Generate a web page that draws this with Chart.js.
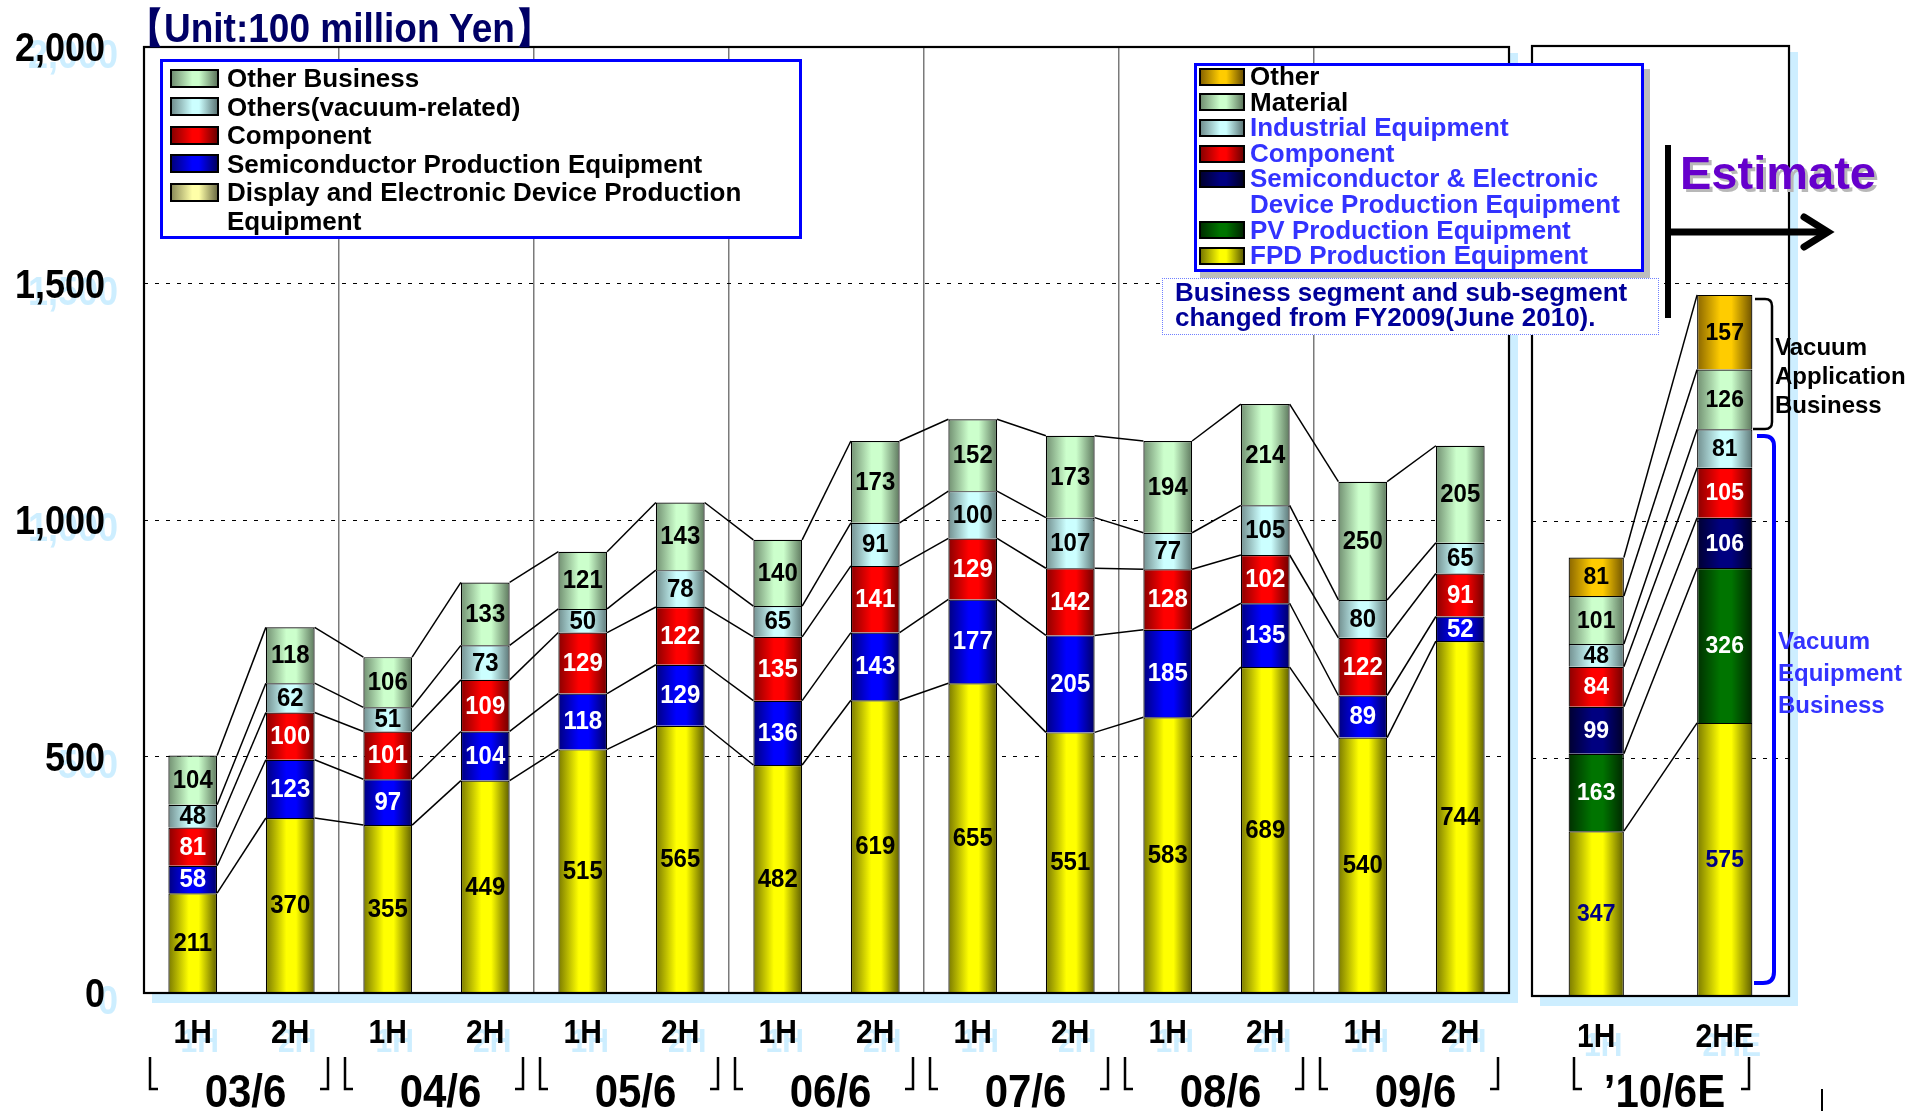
<!DOCTYPE html>
<html>
<head>
<meta charset="utf-8">
<title>Orders by segment</title>
<script src="https://cdn.jsdelivr.net/npm/chart.js@4.4.1/dist/chart.umd.min.js"></script>
<style>
  html, body { margin: 0; padding: 0; background: #fff; }
  body { position: relative; width: 1923px; height: 1112px; overflow: hidden;
         font-family: "Liberation Sans", Arial, sans-serif; font-weight: bold; }
  canvas { position: absolute; top: 0; }
  #past { left: 0; }
  #plan { left: 1525px; }
  #marks { position: absolute; left: 0; top: 0; }
  .abs { position: absolute; white-space: nowrap; }
  .legend { position: absolute; box-sizing: border-box; border: 3px solid #0000ff; background: #fff; }
  .row { display: flex; align-items: flex-start; }
  .sw { flex: none; box-sizing: border-box; border: 2px solid #000; }
</style>
</head>
<body>
<canvas id="past" width="1525" height="1112"></canvas>
<canvas id="plan" width="398" height="1112"></canvas>

<svg id="marks" width="1923" height="1112">
  <!-- estimate marker -->
  <rect x="1665" y="145" width="6" height="173" fill="#000"/>
  <line x1="1669" y1="232" x2="1826" y2="232" stroke="#000" stroke-width="7"/>
  <path d="M1804 217 L1828 232 L1804 247" fill="none" stroke="#000" stroke-width="7" stroke-linecap="round"/>
  <!-- segment braces -->
  <path d="M1755 299 H1765 Q1772 299 1772 306 V422 Q1772 429 1765 429 H1753" fill="none" stroke="#000" stroke-width="2.5"/>
  <path d="M1757 436 H1764 Q1774 436 1774 446 V972 Q1774 983 1763 983 H1754" fill="none" stroke="#0000ff" stroke-width="4"/>
</svg>

<div class="abs" id="unit" style="left:127px;top:10px;font-size:37px;line-height:37px;color:#000066;transform:scaleY(1.1);">【Unit:100 million Yen】</div>
<div class="legend" id="legendPast" style="left:160px;top:59px;width:642px;height:180px;"></div>
<div class="legend" id="legendPlan" style="left:1194px;top:63px;width:450px;height:209px;box-shadow:6px 6px 0 #bdbdbd;"></div>
<div class="abs" id="note" style="left:1162px;top:278px;width:497px;height:57px;box-sizing:border-box;border:1px dotted #7080ff;background:#fff;padding:1px 0 0 12px;font-size:26px;line-height:25px;color:#000099;">Business segment and sub-segment<br>changed from FY2009(June 2010).</div>
<div class="abs" style="left:1680px;top:149px;font-size:47px;line-height:47px;color:#6600cc;text-shadow:3px 3px 0 #b8b8b8;">Estimate</div>
<div class="abs" style="left:1775px;top:332px;font-size:24px;line-height:29px;color:#000;">Vacuum<br>Application<br>Business</div>
<div class="abs" style="left:1778px;top:625px;font-size:24px;line-height:32px;color:#3333ff;">Vacuum<br>Equipment<br>Business</div>
<div class="abs" style="left:1821px;top:1089px;width:2px;height:22px;background:#000;"></div>

<script>
// ---------------- data ----------------
const yTicks = [0, 500, 1000, 1500, 2000];

// results, half years ended 03/6 .. 09/6
const halfLabels = ['1H','2H','1H','2H','1H','2H','1H','2H','1H','2H','1H','2H','1H','2H'];
const yearLabels = ['03/6','04/6','05/6','06/6','07/6','08/6','09/6'];
const displayEquip  = [211, 370, 355, 449, 515, 565, 482, 619, 655, 551, 583, 689, 540, 744];
const semiEquip     = [ 58, 123,  97, 104, 118, 129, 136, 143, 177, 205, 185, 135,  89,  52];
const componentPast = [ 81, 100, 101, 109, 129, 122, 135, 141, 129, 142, 128, 102, 122,  91];
const othersVacuum  = [ 48,  62,  51,  73,  50,  78,  65,  91, 100, 107,  77, 105,  80,  65];
const otherBusiness = [104, 118, 106, 133, 121, 143, 140, 173, 152, 173, 194, 214, 250, 205];

// estimate for the year ending 10/6 (new segments)
const planHalfLabels  = ['1H', '2HE'];
const planYearLabel   = '\u201910/6E';
const fpdEquip        = [347, 575];
const pvEquip         = [163, 326];
const semiElecEquip   = [ 99, 106];
const componentPlan   = [ 84, 105];
const industrialEquip = [ 48,  81];
const material        = [101, 126];
const otherPlan       = [ 81, 157];

// ---------------- styles ----------------
// [edge, highlight, far edge] for the cylinder look
const shades = {
  yellow: ['#7a7a00', '#ffff00', '#5e5e00'],
  pale:   ['#8c8c5a', '#ffffa8', '#6e6e46'],
  blue:   ['#000080', '#0000ff', '#000064'],
  red:    ['#8a0000', '#ff0000', '#6e0000'],
  cyan:   ['#728f8f', '#ccffff', '#5e7878'],
  green:  ['#729072', '#ccffcc', '#5e785e'],
  navy:   ['#000030', '#000080', '#000026'],
  pv:     ['#003000', '#007400', '#002600'],
  gold:   ['#8a6600', '#ffcc00', '#6e5200']
};
const FONT = '"Liberation Sans", Arial, sans-serif';
const BLUE_TEXT = '#3333ff';

const pastSeries = [
  { label: 'Display and Electronic Device Production Equipment', data: displayEquip, shade: 'yellow', swatch: 'pale', valueColor: '#000' },
  { label: 'Semiconductor Production Equipment', data: semiEquip, shade: 'blue', swatch: 'blue', valueColor: '#fff' },
  { label: 'Component', data: componentPast, shade: 'red', swatch: 'red', valueColor: '#fff' },
  { label: 'Others(vacuum-related)', data: othersVacuum, shade: 'cyan', swatch: 'cyan', valueColor: '#000' },
  { label: 'Other Business', data: otherBusiness, shade: 'green', swatch: 'green', valueColor: '#000' }
];

const planSeries = [
  { label: 'FPD Production Equipment', data: fpdEquip, shade: 'yellow', swatch: 'yellow', valueColor: '#000080', legendColor: BLUE_TEXT },
  { label: 'PV Production Equipment', data: pvEquip, shade: 'pv', swatch: 'pv', valueColor: '#fff', legendColor: BLUE_TEXT },
  { label: 'Semiconductor & Electronic Device Production Equipment', data: semiElecEquip, shade: 'navy', swatch: 'navy', valueColor: '#fff', legendColor: BLUE_TEXT },
  { label: 'Component', data: componentPlan, shade: 'red', swatch: 'red', valueColor: '#fff', legendColor: BLUE_TEXT },
  { label: 'Industrial Equipment', data: industrialEquip, shade: 'cyan', swatch: 'cyan', valueColor: '#000', legendColor: BLUE_TEXT },
  { label: 'Material', data: material, shade: 'green', swatch: 'green', valueColor: '#000', legendColor: '#000' },
  { label: 'Other', data: otherPlan, shade: 'gold', swatch: 'gold', valueColor: '#000', legendColor: '#000' }
];

// ---------------- helpers ----------------
function barFill(shade, pct) {
  return function (c) {
    if (c.type !== 'data') return shade[1];
    const xs = c.chart.scales.x;
    if (!xs) return shade[1];
    const half = xs.width / c.chart.data.labels.length * pct / 2;
    const cx = xs.getPixelForValue(c.dataIndex);
    // scales are not laid out yet on the very first pass
    if (!isFinite(half) || !isFinite(cx) || half <= 0) return shade[1];
    const g = c.chart.ctx.createLinearGradient(cx - half, 0, cx + half, 0);
    g.addColorStop(0, shade[0]);
    g.addColorStop(0.42, shade[1]);
    g.addColorStop(0.62, shade[1]);
    g.addColorStop(1, shade[2]);
    return g;
  };
}

function drawText(ctx, text, x, y, size, color, align, stretch, shadow) {
  ctx.save();
  ctx.font = 'bold ' + size + 'px ' + FONT;
  ctx.textAlign = align;
  ctx.textBaseline = 'middle';
  if (shadow) {
    ctx.save();
    ctx.translate(x + shadow[0], y + shadow[1]);
    ctx.scale(1, stretch);
    ctx.fillStyle = '#cdeeff';
    ctx.fillText(text, 0, 0);
    ctx.restore();
  }
  ctx.translate(x, y);
  ctx.scale(1, stretch);
  ctx.fillStyle = color;
  ctx.fillText(text, 0, 0);
  ctx.restore();
}

function panelPlugin(cfg) {
  return {
    id: 'panel',
    beforeDraw(chart) {
      const ctx = chart.ctx, a = chart.chartArea;
      ctx.save();
      ctx.fillStyle = '#cdeeff';
      ctx.fillRect(a.left + 8, a.top + 6, a.right - a.left + 1, a.bottom - a.top + 4);
      ctx.fillStyle = '#fff';
      ctx.fillRect(a.left, a.top, a.right - a.left, a.bottom - a.top);
      ctx.restore();
    },
    // lines joining the segment tops of neighbouring bars
    beforeDatasetsDraw(chart) {
      const ctx = chart.ctx;
      ctx.save();
      ctx.strokeStyle = '#000';
      ctx.lineWidth = 1.5;
      chart.data.datasets.forEach((ds, d) => {
        const els = chart.getDatasetMeta(d).data;
        for (let i = 0; i < els.length - 1; i++) {
          const p = els[i].getProps(['x', 'y', 'width'], true);
          const q = els[i + 1].getProps(['x', 'y', 'width'], true);
          ctx.beginPath();
          ctx.moveTo(p.x + p.width / 2, p.y);
          ctx.lineTo(q.x - q.width / 2, q.y);
          ctx.stroke();
        }
      });
      ctx.restore();
    },
    afterDatasetsDraw(chart) {
      const ctx = chart.ctx, a = chart.chartArea;
      // value inside each segment
      chart.data.datasets.forEach((ds, d) => {
        chart.getDatasetMeta(d).data.forEach((el, i) => {
          const p = el.getProps(['x', 'y', 'base'], true);
          drawText(ctx, String(ds.data[i]), p.x, (p.y + p.base) / 2 + 1, cfg.valueSize, ds.valueColor, 'center', 1.05, null);
        });
      });
      // frame
      ctx.save();
      ctx.strokeStyle = '#000';
      ctx.lineWidth = 2.2;
      ctx.strokeRect(a.left, a.top, a.right - a.left, a.bottom - a.top);
      ctx.restore();
    },
    afterDraw(chart) {
      const ctx = chart.ctx, xs = chart.scales.x, ys = chart.scales.y;
      if (cfg.yLabelRight) {
        ys.ticks.forEach(t => {
          drawText(ctx, t.value.toLocaleString('en-US'), cfg.yLabelRight, ys.getPixelForValue(t.value) + 3, 36, '#000', 'right', 1.14, [13, 7]);
        });
      }
      chart.data.labels.forEach((l, i) => {
        drawText(ctx, l, xs.getPixelForValue(i), cfg.halfY, 30, '#000', 'center', 1.1, [7, 9]);
      });
      const catW = xs.width / chart.data.labels.length;
      cfg.groups.forEach(g => {
        const left = xs.getPixelForValue(g.from) - catW / 2;
        const right = xs.getPixelForValue(g.to) + catW / 2;
        drawText(ctx, g.label, (left + right) / 2 + cfg.yearShift, cfg.yearY, 42, '#000', 'center', 1.08, null);
        ctx.save();
        ctx.strokeStyle = '#000';
        ctx.lineWidth = 2.5;
        ctx.beginPath();
        ctx.moveTo(left + cfg.bracketIn, 1057);
        ctx.lineTo(left + cfg.bracketIn, 1089);
        ctx.lineTo(left + cfg.bracketIn + 8, 1089);
        ctx.moveTo(right - cfg.bracketOut, 1057);
        ctx.lineTo(right - cfg.bracketOut, 1089);
        ctx.lineTo(right - cfg.bracketOut - 8, 1089);
        ctx.stroke();
        ctx.restore();
      });
    }
  };
}

function makeChart(id, labels, series, cfg) {
  return new Chart(document.getElementById(id), {
    type: 'bar',
    data: {
      labels: labels,
      datasets: series.map(s => ({
        label: s.label,
        data: s.data,
        backgroundColor: barFill(shades[s.shade], cfg.barPct),
        borderColor: '#000',
        borderWidth: 1.2,
        barPercentage: cfg.barPct,
        categoryPercentage: 1,
        valueColor: s.valueColor
      }))
    },
    options: {
      responsive: false,
      animation: false,
      devicePixelRatio: 1,
      layout: { padding: cfg.padding },
      plugins: { legend: { display: false }, tooltip: { enabled: false } },
      scales: {
        x: {
          stacked: true,
          ticks: { display: false },
          border: { display: false },
          grid: {
            offset: true,
            drawTicks: false,
            lineWidth: 1.5,
            color: c => (cfg.yearSplit && c.index > 0 && c.index < labels.length && c.index % 2 === 0) ? '#7a7a7a' : 'rgba(0,0,0,0)'
          },
          afterFit: s => { s.height = cfg.xHeight; }
        },
        y: {
          stacked: true,
          min: yTicks[0],
          max: yTicks[yTicks.length - 1],
          ticks: { display: false, stepSize: yTicks[1] - yTicks[0] },
          border: { display: false, dash: [4, 7] },
          grid: { color: '#000', lineWidth: 1, drawTicks: false },
          afterFit: s => { s.width = cfg.yWidth; }
        }
      }
    },
    plugins: [panelPlugin(cfg)]
  });
}

function buildLegend(id, series, o) {
  const box = document.getElementById(id);
  const inner = document.createElement('div');
  inner.style.cssText = 'position:relative;top:' + o.top + 'px;padding-left:' + o.left + 'px;';
  series.slice().reverse().forEach(s => {
    const row = document.createElement('div');
    row.className = 'row';
    row.style.lineHeight = o.lh + 'px';
    row.style.fontSize = o.fs + 'px';
    const sw = document.createElement('span');
    const sh = shades[s.swatch];
    sw.className = 'sw';
    sw.style.width = o.sw + 'px';
    sw.style.height = o.sh + 'px';
    sw.style.marginTop = (o.lh - o.sh) / 2 + 'px';
    sw.style.marginRight = o.gap + 'px';
    sw.style.background = 'linear-gradient(to right,' + sh[0] + ' 0%,' + sh[1] + ' 45%,' + sh[1] + ' 60%,' + sh[2] + ' 100%)';
    const tx = document.createElement('span');
    tx.textContent = s.label;
    tx.style.color = s.legendColor || '#000';
    tx.style.width = o.tw + 'px';
    row.append(sw, tx);
    inner.append(row);
  });
  box.append(inner);
}

// ---------------- build ----------------
buildLegend('legendPast', pastSeries, { top: 2, left: 7, lh: 28.5, fs: 26, sw: 49, sh: 19, gap: 8, tw: 560 });
buildLegend('legendPlan', planSeries, { top: -2, left: 2, lh: 25.6, fs: 26, sw: 46, sh: 18, gap: 5, tw: 395 });

makeChart('past', halfLabels, pastSeries, {
  padding: { top: 47, right: 16, left: 0, bottom: 0 },
  yWidth: 144, xHeight: 119, barPct: 0.5, valueSize: 24,
  yearSplit: true, yLabelRight: 105, halfY: 1034, yearY: 1094, yearShift: 4,
  bracketIn: 6, bracketOut: 11,
  groups: yearLabels.map((l, k) => ({ label: l, from: 2 * k, to: 2 * k + 1 }))
});

makeChart('plan', planHalfLabels, planSeries, {
  padding: { top: 46, right: 134, left: 0, bottom: 0 },
  yWidth: 7, xHeight: 116, barPct: 0.43, valueSize: 23,
  yearSplit: false, yLabelRight: 0, halfY: 1038, yearY: 1094, yearShift: 4,
  bracketIn: 42, bracketOut: 40,
  groups: [{ label: planYearLabel, from: 0, to: 1 }]
});
</script>
</body>
</html>
